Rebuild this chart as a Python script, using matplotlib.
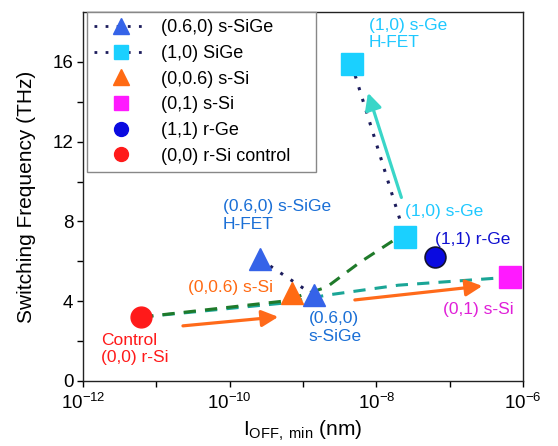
import matplotlib
matplotlib.use("Agg")
import matplotlib.pyplot as plt
from matplotlib.lines import Line2D

plt.rcParams['font.family'] = ['Liberation Sans', 'DejaVu Sans']
plt.rcParams['mathtext.fontset'] = 'custom'
plt.rcParams['mathtext.rm'] = 'Liberation Sans'
plt.rcParams['mathtext.it'] = 'Liberation Sans:italic'

# ---- data ----
r_si_x, r_si_y = [6.2e-12], [3.2]            # (0,0) r-Si control
s_si06_x, s_si06_y = [7.1e-10], [4.4]        # (0,0.6) s-Si
s_sige_x, s_sige_y = [1.4e-9], [4.3]         # (0.6,0) s-SiGe
sige_hfet_x, sige_hfet_y = [2.6e-10], [6.1]  # (0.6,0) s-SiGe H-FET
s_ge_x, s_ge_y = [2.5e-8], [7.2]             # (1,0) s-Ge
ge_hfet_x, ge_hfet_y = [4.6e-9], [15.9]      # (1,0) s-Ge H-FET
r_ge_x, r_ge_y = [6.3e-8], [6.2]             # (1,1) r-Ge
s_si1_x, s_si1_y = [6.6e-7], [5.2]           # (0,1) s-Si

green_x = [6.2e-12, 5.4e-10, 2.1e-9, 6.0e-9, 1.9e-8]
green_y = [3.2, 4.0, 4.7, 5.95, 7.15]
teal_x = [6.2e-12, 5.4e-10, 2.1e-9, 2.0e-8, 6.6e-7]
teal_y = [3.2, 3.9, 4.3, 4.8, 5.2]

arrows = [  # (x0, y0, x1, y1, color)
    (2.3e-11, 2.76, 4.6e-10, 3.21, '#ff6a1a'),
    (5.1e-9, 4.06, 2.8e-7, 4.76, '#ff6a1a'),
    (2.2e-8, 9.2, 7.7e-9, 14.45, '#3ad6c8'),
]

fig = plt.figure(figsize=(5.58, 4.46), dpi=100)
ax = fig.add_axes([0.149, 0.146, 0.788, 0.827])
ax.set_xscale('log')
ax.set_xlim(1e-12, 1e-6)
ax.set_ylim(0, 18.5)

# curves
ax.plot(teal_x, teal_y, color='#1aa596', ls=(0, (4, 3)), lw=2.2, zorder=2)
ax.plot(green_x, green_y, color='#1f7a2a', ls=(0, (4, 3)), lw=2.2, zorder=2)

navy = '#1c1c5c'
ax.plot(sige_hfet_x + s_sige_x, sige_hfet_y + s_sige_y, color=navy, ls=(0, (1, 3)), lw=2.2, zorder=2)
ax.plot(ge_hfet_x + s_ge_x, ge_hfet_y + s_ge_y, color=navy, ls=(0, (1, 3)), lw=2.2, zorder=2)

for x0, y0, x1, y1, c in arrows:
    ax.annotate('', xy=(x1, y1), xytext=(x0, y0),
                arrowprops=dict(arrowstyle='-|>,head_length=1.0,head_width=0.5', color=c, lw=2.3,
                                shrinkA=0, shrinkB=0), zorder=3)

# markers
ax.plot(sige_hfet_x, sige_hfet_y, '^', ms=16, color='#3563e8', mec='#3563e8', zorder=4)
ax.plot(s_sige_x, s_sige_y, '^', ms=16, color='#3563e8', mec='#3563e8', zorder=4)
ax.plot(ge_hfet_x, ge_hfet_y, 's', ms=16, color='#1ad0ff', mec='#1ad0ff', zorder=4)
ax.plot(s_ge_x, s_ge_y, 's', ms=16, color='#1ad0ff', mec='#1ad0ff', zorder=4)
ax.plot(s_si06_x, s_si06_y, '^', ms=16, color='#ff6a13', mec='#ff6a13', zorder=4)
ax.plot(s_si1_x, s_si1_y, 's', ms=16, color='#ff1aff', mec='#ff1aff', zorder=4)
ax.plot(r_ge_x, r_ge_y, 'o', ms=15, color='#0a0ae0', mec='#111133', mew=1.2, zorder=4)
ax.plot(r_si_x, r_si_y, 'o', ms=15, color='#ff1a1a', mec='#ff1a1a', zorder=4)

# annotations
fs = 12.5
ax.text(7.9e-9, 18.2, '(1,0) s-Ge\nH-FET', color='#1ec8ff', fontsize=fs, va='top', ha='left')
ax.text(8.1e-11, 9.1, '(0.6,0) s-SiGe\nH-FET', color='#1a6fd6', fontsize=fs, va='top', ha='left')
ax.text(2.7e-11, 4.7, '(0,0.6) s-Si', color='#ff6a13', fontsize=fs, va='center', ha='left')
ax.text(1.2e-9, 3.5, '(0.6,0)\ns-SiGe', color='#1a6fd6', fontsize=fs, va='top', ha='left')
ax.text(2.5e-8, 8.5, '(1,0) s-Ge', color='#1ec8ff', fontsize=fs, va='center', ha='left')
ax.text(6.3e-8, 7.1, '(1,1) r-Ge', color='#1010d0', fontsize=fs, va='center', ha='left')
ax.text(8.1e-8, 3.56, '(0,1) s-Si', color='#e020d8', fontsize=fs, va='center', ha='left')
ax.text(1.76e-12, 2.4, 'Control\n(0,0) r-Si', color='#ff1a1a', fontsize=fs, va='top', ha='left')

# axes styling
ax.set_yticks([0, 4, 8, 12, 16])
ax.set_yticks([2, 6, 10, 14], minor=True)
ax.set_xticks([1e-12, 1e-10, 1e-8, 1e-6])
ax.set_xticks([1e-11, 1e-9, 1e-7], minor=True)
ax.xaxis.set_minor_formatter(matplotlib.ticker.NullFormatter())
ax.tick_params(axis='both', which='both', direction='out', labelsize=13.5, length=4, width=1, right=False, top=False)
ax.tick_params(axis='x', which='major', pad=5)
ax.tick_params(axis='y', which='major', pad=3)
for s in ax.spines.values():
    s.set_linewidth(1.0)
    s.set_color('#222222')
ax.set_ylabel('Switching Frequency (THz)', fontsize=15, labelpad=12)
ax.set_xlabel(r'I$_{\mathrm{OFF,\ min}}$ (nm)', fontsize=15, labelpad=4)

# legend
handles = [
    Line2D([], [], color=navy, ls=(0, (1, 3)), lw=2, marker='^', ms=11, mfc='#3563e8', mec='#3563e8'),
    Line2D([], [], color=navy, ls=(0, (1, 3)), lw=2, marker='s', ms=10, mfc='#1ad0ff', mec='#1ad0ff'),
    Line2D([], [], ls='none', marker='^', ms=11, mfc='#ff6a13', mec='#ff6a13'),
    Line2D([], [], ls='none', marker='s', ms=10, mfc='#ff1aff', mec='#ff1aff'),
    Line2D([], [], ls='none', marker='o', ms=10, mfc='#0a0ae0', mec='#0a0ae0'),
    Line2D([], [], ls='none', marker='o', ms=10, mfc='#ff1a1a', mec='#ff1a1a'),
]
labels = ['(0.6,0) s-SiGe', '(1,0) SiGe', '(0,0.6) s-Si', '(0,1) s-Si', '(1,1) r-Ge', '(0,0) r-Si control']
leg = ax.legend(handles, labels, loc='upper left', bbox_to_anchor=(0.009, 0.0, 0.52, 1.0), mode='expand',
                fontsize=13, frameon=True, fancybox=False, edgecolor='#888888', framealpha=1,
                handlelength=2.9, labelspacing=0.48, borderpad=0.4, handletextpad=0.8,
                borderaxespad=0)
leg.get_frame().set_linewidth(1.0)

fig.savefig('out.png', dpi=100)
